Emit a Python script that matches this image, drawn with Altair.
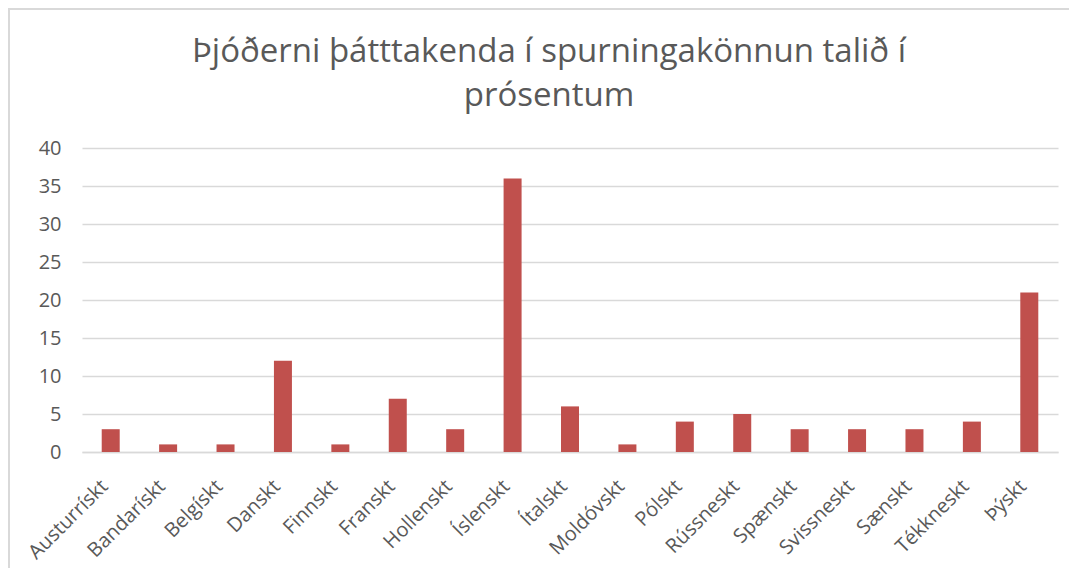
import altair as alt
import pandas as pd

categories = ["Austurrískt", "Bandarískt", "Belgískt", "Danskt", "Finnskt", "Franskt",
              "Hollenskt", "Íslenskt", "Ítalskt", "Moldóvskt", "Pólskt", "Rússneskt",
              "Spænskt", "Svissneskt", "Sænskt", "Tékkneskt", "Þýskt"]
values = [3, 1, 1, 12, 1, 7, 3, 36, 6, 1, 4, 5, 3, 3, 3, 4, 21]
y_ticks = [0, 5, 10, 15, 20, 25, 30, 35, 40]
title_lines = ["Þjóðerni þátttakenda í spurningakönnun talið í", "prósentum"]

df = pd.DataFrame({"cat": categories, "val": values})

FONT = "Open Sans"
TXT = "#595959"
GRID = "#D9D9D9"

bars = alt.Chart(df).mark_bar(size=18, color="#C0504D").encode(
    x=alt.X("cat:N", sort=categories, title=None,
            scale=alt.Scale(paddingInner=0, paddingOuter=0),
            axis=alt.Axis(labelAngle=-45, labelAlign="right", labelBaseline="middle",
                          labelPadding=31, labelOffset=-6, ticks=False, domainColor=GRID,
                          domainWidth=1.5, labelFont=FONT, labelFontSize=20,
                          labelColor=TXT, grid=False)),
    y=alt.Y("val:Q", title=None, scale=alt.Scale(domain=[0, 40]),
            axis=alt.Axis(values=y_ticks, ticks=False, domain=False, gridColor=GRID,
                          gridWidth=1.5, labelFont=FONT, labelFontSize=20, labelColor=TXT,
                          labelPadding=21)),
)

one = pd.DataFrame({"k": [0]})
frame = alt.Chart(one).mark_rect(
    fill=None, stroke=GRID, strokeWidth=2
).encode(x=alt.value(-73), y=alt.value(-139), x2=alt.value(1100), y2=alt.value(600))

title1 = alt.Chart(one).mark_text(
    text=title_lines[0], font=FONT, fontSize=33, color=TXT, align="center", baseline="alphabetic"
).encode(x=alt.value(467), y=alt.value(-86))
title2 = alt.Chart(one).mark_text(
    text=title_lines[1], font=FONT, fontSize=33, color=TXT, align="center", baseline="alphabetic"
).encode(x=alt.value(467), y=alt.value(-42))

chart = alt.layer(frame, bars, title1, title2).properties(
    width=976, height=304,
    padding={"left": 74, "top": 140, "right": 11, "bottom": 116},
    autosize=alt.AutoSizeParams(type="none"),
).configure_view(stroke=None)

chart.save("out.html", embed_options={"renderer": "svg", "actions": False})
